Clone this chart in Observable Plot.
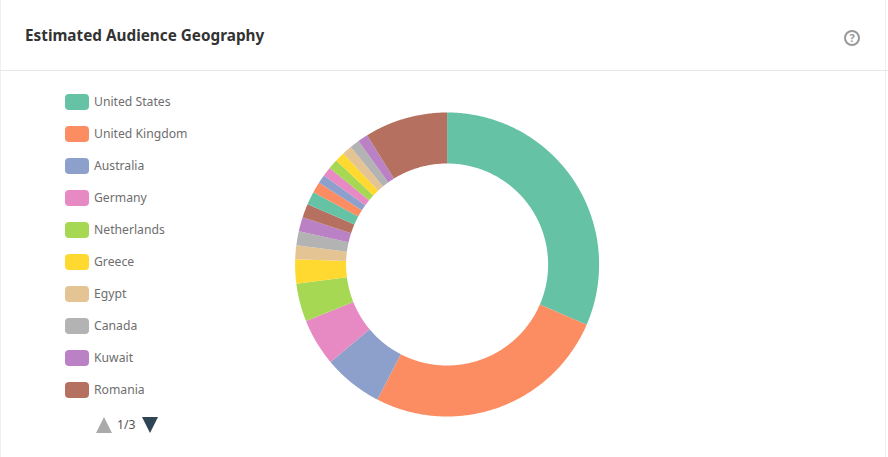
<!DOCTYPE html>
<html>
<head>
<meta charset="utf-8">
<script src="https://cdn.jsdelivr.net/npm/d3@7"></script>
<script src="https://cdn.jsdelivr.net/npm/@observablehq/plot@0.6"></script>
<style>
html,body{margin:0;padding:0;background:#fff;width:888px;height:457px;overflow:hidden;font-family:"Noto Sans",sans-serif}
#edgeL{position:absolute;left:0;top:0;width:1px;height:457px;background:#f0f0f0}
#edgeR{position:absolute;left:885px;top:0;width:1px;height:457px;background:#f0f0f0}
#title{position:absolute;left:25px;top:24px;font-size:15.3px;font-weight:700;color:#333;line-height:22px;white-space:nowrap}
#rule{position:absolute;left:0;top:70px;width:888px;height:1px;background:#e6e6e6}
#help{position:absolute;left:843px;top:29px}
#chart{position:absolute;left:0;top:0}
.item{position:absolute;left:65px;height:16px;white-space:nowrap}
.sw{position:absolute;left:0;top:0;width:24px;height:16px;border-radius:4px}
.lb{position:absolute;left:29px;top:-1px;font-size:12.2px;line-height:18px;color:#6e6e6e}
#pager{position:absolute;left:96px;top:417px;height:16px}
#pager svg{position:absolute;top:0}
#pager span{position:absolute;left:21px;top:-1px;font-size:12.2px;line-height:18px;color:#555}
</style>
</head>
<body>
<div id="chart"></div>
<div id="edgeL"></div><div id="edgeR"></div>
<div id="title">Estimated Audience Geography</div>
<div id="rule"></div>
<svg id="help" width="18" height="18" viewBox="0 0 18 18"><circle cx="9" cy="9" r="7" fill="none" stroke="#999" stroke-width="2"/><text x="9" y="13" text-anchor="middle" font-family="Noto Sans" font-weight="700" font-size="11" fill="#999">?</text></svg>
<div id="legend"></div>
<div id="pager">
<svg style="left:0" width="16" height="16"><path d="M8 0L16 16H0Z" fill="#aaa"/></svg>
<span>1/3</span>
<svg style="left:46px" width="16" height="16"><path d="M0 0H16L8 16Z" fill="#2f4554"/></svg>
</div>
<script>
const countries = ["United States","United Kingdom","Australia","Germany","Netherlands","Greece","Egypt","Canada","Kuwait","Romania"];
const colors = ["#66c2a5","#fc8d62","#8da0cb","#e78ac3","#a6d854","#ffd92f","#e5c494","#b3b3b3","#ba82c4","#b5705f"];
// slice sizes, in % of the ring, clockwise from the top
const shares = [31.5,26.08,6.33,5.03,4.03,2.58,1.47,1.5,1.5,1.47,1.4,1.15,0.92,1.0,1.03,1.05,1.03,1.03,1.08,8.82];

const total = d3.sum(shares);
const hole = 101/152;
let acc = 0;
const rows = [];
shares.forEach((v,i)=>{
  const a0 = acc/total*2*Math.PI; acc += v;
  const a1 = acc/total*2*Math.PI;
  const n = Math.max(2, Math.ceil((a1-a0)/0.01));
  const ring = d3.range(n+1).map(k=>a0+(a1-a0)*k/n);
  const key = countries[i % countries.length];
  for (const a of ring) rows.push({slice:i,key,x:Math.sin(a),y:Math.cos(a)});
  for (const a of ring.reverse()) rows.push({slice:i,key,x:hole*Math.sin(a),y:hole*Math.cos(a)});
});

const plot = Plot.plot({
  width:888, height:457, margin:0,
  style:{background:"transparent"},
  x:{axis:null, domain:[-446.6/152,441.4/152], range:[0,888]},
  y:{axis:null, domain:[-193/152,264/152], range:[457,0]},
  color:{type:"ordinal", domain:countries, range:colors},
  marks:[
    Plot.line(rows,{x:"x",y:"y",z:"slice",fill:"key",stroke:"none",curve:"linear-closed"})
  ]
});
document.getElementById("chart").append(plot);

const legend = document.getElementById("legend");
countries.forEach((c,i)=>{
  const d = document.createElement("div");
  d.className="item"; d.style.top=(94+32*i)+"px";
  d.innerHTML=`<div class="sw" style="background:${colors[i]}"></div><div class="lb">${c}</div>`;
  legend.append(d);
});
</script>
</body>
</html>
